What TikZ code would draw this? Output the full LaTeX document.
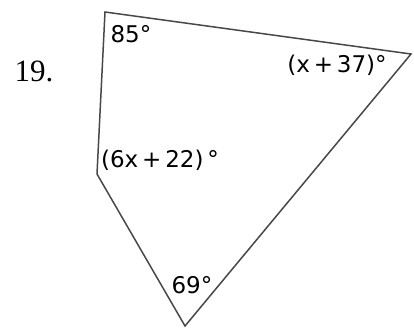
\documentclass[tikz,border=0pt]{standalone}
\usepackage{fontspec}
\setmainfont{Liberation Serif}
\newfontfamily\rotulofonte{DejaVu Sans}
\usetikzlibrary{positioning}
\definecolor{figtraco}{HTML}{484848}
\tikzset{
  figlado/.style={draw=figtraco, line width=1.5pt, line join=miter},
  figangulo/.style={font=\rotulofonte\fontsize{23}{23}\selectfont, inner sep=0pt, text=black},
  fignumero/.style={font=\fontsize{31}{31}\selectfont, inner sep=0pt, anchor=base},
}
\begin{document}
\begin{tikzpicture}[x=1pt, y=-1pt]
    \useasboundingbox (0,0) rectangle (414,329);
    % vertices
    \coordinate (va) at (105,12);
    \coordinate (vb) at (411,54);
    \coordinate (vc) at (185,326);
    \coordinate (vd) at (97,174);
    % lados
    \draw[figlado] (va) -- (vb) -- (vc) -- (vd) -- cycle;
    % numero do exercicio
    \node[fignumero] (num) at (34,81) {19.};
    % angulos
    \node[figangulo] (anga) at (131,34) {85°};
    \node[figangulo] (angb) at (337,65) {(x\,+\,37)°};
    \node[figangulo] (angd) at (160,160) {(6x\,+\,22)\,°};
    \node[figangulo] (angc) at (192,285) {69°};
\end{tikzpicture}
\end{document}
